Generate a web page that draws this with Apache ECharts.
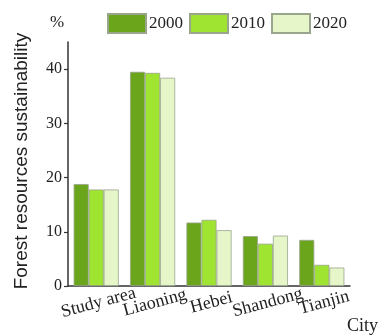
<!DOCTYPE html>
<html>
<head>
<meta charset="utf-8">
<script src="https://cdn.jsdelivr.net/npm/echarts@6/dist/echarts.min.js"></script>
<style>
  html, body { margin: 0; padding: 0; background: #fff; }
  #chart { width: 380px; height: 335px; }
</style>
</head>
<body>
<div id="chart"></div>
<script>
// Forest resources sustainability by city, three survey years
const cities = ['Study area', 'Liaoning', 'Hebei', 'Shandong', 'Tianjin'];
const years = ['2000', '2010', '2020'];
const values2000 = [18.8, 39.5, 11.7, 9.2, 8.5];
const values2010 = [17.8, 39.3, 12.2, 7.8, 3.9];
const values2020 = [17.8, 38.4, 10.3, 9.3, 3.4];
const yTicks = [0, 10, 20, 30, 40];

const serif = '"Liberation Serif", "Times New Roman", serif';
const sans = '"Liberation Sans", Arial, sans-serif';
const fills = ['#6ba51b', '#9fe431', '#e6f6c9'];
const seriesValues = [values2000, values2010, values2020];

const chart = echarts.init(document.getElementById('chart'), null, { renderer: 'canvas' });

chart.setOption({
  animation: false,
  grid: { left: 68, right: 30, top: 42, bottom: 49 },
  legend: {
    left: 102,
    top: 8,
    icon: 'rect',
    itemWidth: 38,
    itemHeight: 19,
    itemGap: 6,
    textStyle: { fontFamily: serif, fontSize: 17, color: '#222', padding: [0, 0, 0, -2] },
    data: years
  },
  xAxis: {
    type: 'category',
    data: cities,
    axisLine: { lineStyle: { color: '#333', width: 1.5 } },
    axisTick: { alignWithLabel: true, length: 4, lineStyle: { color: '#333', width: 1.2 } },
    axisLabel: {
      rotate: 15,
      align: 'center',
      verticalAlign: 'top',
      margin: 8,
      interval: 0,
      fontFamily: serif,
      fontSize: 18,
      color: '#222'
    }
  },
  yAxis: {
    type: 'value',
    min: 0,
    max: 45,
    interval: 10,
    splitLine: { show: false },
    axisLine: { show: true, lineStyle: { color: '#333', width: 1.5 } },
    axisTick: { show: true, length: 4, customValues: yTicks, lineStyle: { color: '#333', width: 1.2 } },
    axisLabel: {
      customValues: yTicks,
      margin: 6,
      fontFamily: serif,
      fontSize: 16,
      color: '#222'
    }
  },
  series: years.map((y, i) => ({
    name: y,
    type: 'bar',
    data: seriesValues[i],
    barGap: '0%',
    barCategoryGap: '20%',
    itemStyle: { color: fills[i], borderColor: '#9aa58e', borderWidth: 0.8 }
  })),
  graphic: [
    {
      type: 'text',
      left: 50,
      top: 14,
      style: { text: '%', font: '17px ' + serif, fill: '#222' }
    },
    {
      type: 'text',
      x: 22,
      y: 161,
      rotation: Math.PI / 2,
      style: {
        text: 'Forest resources sustainability',
        font: '19px ' + sans,
        fill: '#222',
        align: 'center',
        verticalAlign: 'middle'
      }
    },
    {
      type: 'text',
      left: 347,
      top: 317,
      style: { text: 'City', font: '18px ' + serif, fill: '#222' }
    }
  ]
});
</script>
</body>
</html>
